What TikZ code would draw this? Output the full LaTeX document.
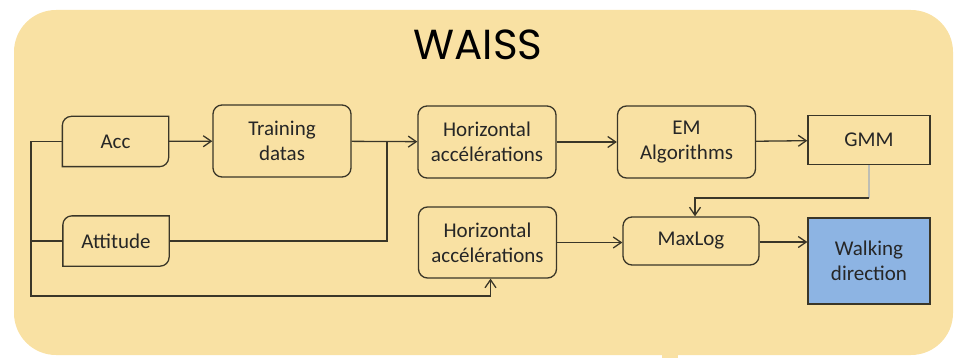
\documentclass[tikz,border=0pt]{standalone}
\usepackage{xcolor}
\usepackage{tikz}
\usepackage{fontspec}
\usetikzlibrary{positioning, arrows.meta, shapes}
\setmainfont{Carlito}
\newfontfamily\titlefont{Poppins}
\definecolor{waissyellow}{RGB}{249,225,163}
\definecolor{waissline}{RGB}{58,54,40}
\definecolor{waissblue}{RGB}{141,180,227}
\definecolor{waissgray}{RGB}{190,190,180}

\begin{document}
\begin{tikzpicture}[x=1pt, y=-1pt,
    line width=1.3pt, draw=waissline,
    >={Straight Barb[length=8pt, width=11pt]},
    block/.style={draw=waissline, fill=waissyellow, rounded corners=9pt,
        minimum width=138pt, minimum height=72pt, align=center,
        font=\fontsize{21}{25}\selectfont, text=black!85},
    flat/.style={block, rounded corners=0pt, minimum width=122pt},
    sensor/.style={draw=none, minimum width=105pt, minimum height=49pt,
        font=\fontsize{21}{25}\selectfont, text=black!85},
    link/.style={draw=waissline, line width=1.3pt},
    arr/.style={link, ->}]
    \useasboundingbox (0,0) rectangle (957,358);

    % Background panel
    \fill[waissyellow, rounded corners=42pt] (14,10) rectangle (953,355);
    \fill[waissyellow] (662,350) rectangle (678,358);
    \node[font=\titlefont\fontsize{42}{48}\selectfont] (title) at (478,45) {WAISS};

    % Sensors
    \node[sensor] (acc) at (115.5,141.5) {Acc};
    \node[sensor] (att) at (116,241) {Attitude};
    \foreach \s in {acc, att} {
        \draw[link] (\s.south west) [rounded corners=9pt] -- (\s.north west)
            [sharp corners] -- (\s.north east) [rounded corners=9pt]
            -- (\s.south east) [sharp corners] -- cycle;
    }

    % Processing blocks
    \node[block] (train) at (282,141) {Training\\datas};
    \node[block] (hor1) at (487,142) {Horizontal\\accélérations};
    \node[block] (em) at (686.5,142) {EM\\Algorithms};
    \node[flat, minimum height=49pt] (gmm) at (869,140) {GMM};
    \node[block, minimum height=71pt] (hor2) at (487.5,242.5) {Horizontal\\accélérations};
    \node[block, minimum width=136pt, minimum height=48pt] (maxlog) at (691,241) {MaxLog};
    \node[flat, fill=waissblue, minimum height=86pt] (walk) at (869,261) {Walking\\direction};

    % Helper points
    \coordinate (jn) at (387,141);
    \coordinate (low) at (31,296);
    \coordinate (bend) at (869,198);

    % Training branch
    \draw[arr] (acc) -- (train);
    \draw[arr] (train) -- (hor1);
    \draw[link] (att.east) -| (jn);
    \draw[arr] (hor1) -- (em);
    \draw[arr] (em) -- (gmm);

    % Direction branch
    \draw[link, draw=waissgray] (gmm.south) -- (bend);
    \draw[arr] (bend) -| ([xshift=4pt]maxlog.north);
    \draw[arr] (acc.west) -| (low) -| ([xshift=3pt]hor2.south);
    \draw[link] (att.west) -- (att.west -| low);
    \draw[arr] (hor2.east) -- (hor2.east -| maxlog.west);
    \draw[arr] ([yshift=-1pt]maxlog.east) -- ([yshift=-1pt]maxlog.east -| walk.west);
\end{tikzpicture}
\end{document}
